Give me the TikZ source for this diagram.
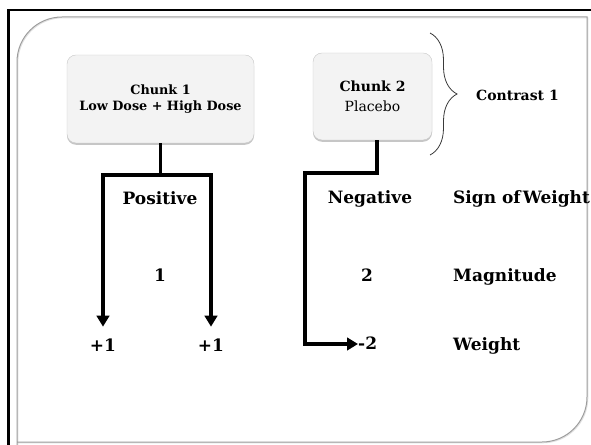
\documentclass[tikz,border=0pt]{standalone}
\usepackage{fontspec}
\setmainfont{DejaVu Serif}
\usetikzlibrary{arrows.meta,positioning,shadows,decorations.pathreplacing,calc}
\definecolor{lt}{HTML}{F3F3F3}
\definecolor{rim}{HTML}{C8C8C8}
\definecolor{frm}{HTML}{9C9C9C}
\definecolor{ink}{HTML}{3A3A3A}
\newcommand{\wlbl}[1]{{\fontsize{17}{19}\selectfont\bfseries #1}}
\tikzset{
  chunk/.style={draw=rim,fill=lt,rounded corners=9pt,align=center,inner sep=3pt,
    drop shadow={shadow xshift=0pt,shadow yshift=-1.8pt,opacity=0.45}},
  lbl/.style={inner sep=0pt,anchor=base},
  side/.style={lbl,anchor=base west},
  wire/.style={line width=3.5pt},
  ar/.style={wire,-{Triangle[length=11pt,width=12.5pt]}},
}

\begin{document}
\begin{tikzpicture}[x=1pt,y=1pt]
\useasboundingbox (0,0) rectangle (591,444);
\clip (0,0) rectangle (591,444);
% slide frame
\draw[line width=2.5pt] (8.7,-5) -- (8.7,434) -- (600,434);
\draw[black!12,line width=1pt,xshift=0.8pt,yshift=-0.8pt] (17,-5) -- (17,382) arc (180:90:45) -- (587,427) -- (587,47) arc (0:-90:45) -- (17,2);
\draw[frm,line width=1pt] (17,-5) -- (17,382) arc (180:90:45) -- (587,427) -- (587,47) arc (0:-90:45) -- (17,2);
% the two chunks
\node[chunk,font=\fontsize{12.8}{16.5}\selectfont,minimum width=187pt,minimum height=88pt] (c1) at (160.5,345) {\textbf{Chunk 1}\\\textbf{Low Dose + High Dose}};
\node[chunk,font=\fontsize{14}{17}\selectfont,minimum width=119pt,minimum height=87pt] (c2) at (372.5,347.5) {\textbf{Chunk 2}\\[3pt]Placebo};
\draw[ink,line width=0.8pt,decorate,decoration={brace,amplitude=27pt,aspect=0.5}] (430,411) -- (430,289);
\node[lbl,anchor=west] (con) at (476,349) {\fontsize{14}{16}\selectfont\bfseries Contrast 1};
% columns
\node[lbl] (pos) at (160,239) {\wlbl{Positive}};
\node[lbl] (one) at (160,162) {\wlbl{1}};
\node[lbl] (pl) at (103,92) {\wlbl{+1}};
\node[lbl] (pr) at (211,92) {\wlbl{+1}};
\node[lbl] (neg) at (370,240) {\wlbl{Negative}};
\node[lbl] (two) at (367,162) {\wlbl{2}};
\node[lbl,anchor=base west] (m2) at (358,94) {\wlbl{-2}};
\node[side] (sgn) at (453,240) {\wlbl{Sign of\hspace{0.12em}Weight}};
\node[side] (mag) at (453,162) {\wlbl{Magnitude}};
\node[side] (wgt) at (453,93) {\wlbl{Weight}};
% connectors
\coordinate (j1) at (160.5,269);
\coordinate (k2) at (305,271);
\draw[wire] (c1.south) -- (j1);
\draw[ar,shorten >=12.5pt] (j1) -| (pl.north);
\draw[ar,shorten >=12.5pt] (j1) -| (pr.north);
\draw[ar] ([xshift=4.5pt]c2.south) |- (k2) |- ([yshift=6pt]m2.base west);
\end{tikzpicture}
\end{document}
